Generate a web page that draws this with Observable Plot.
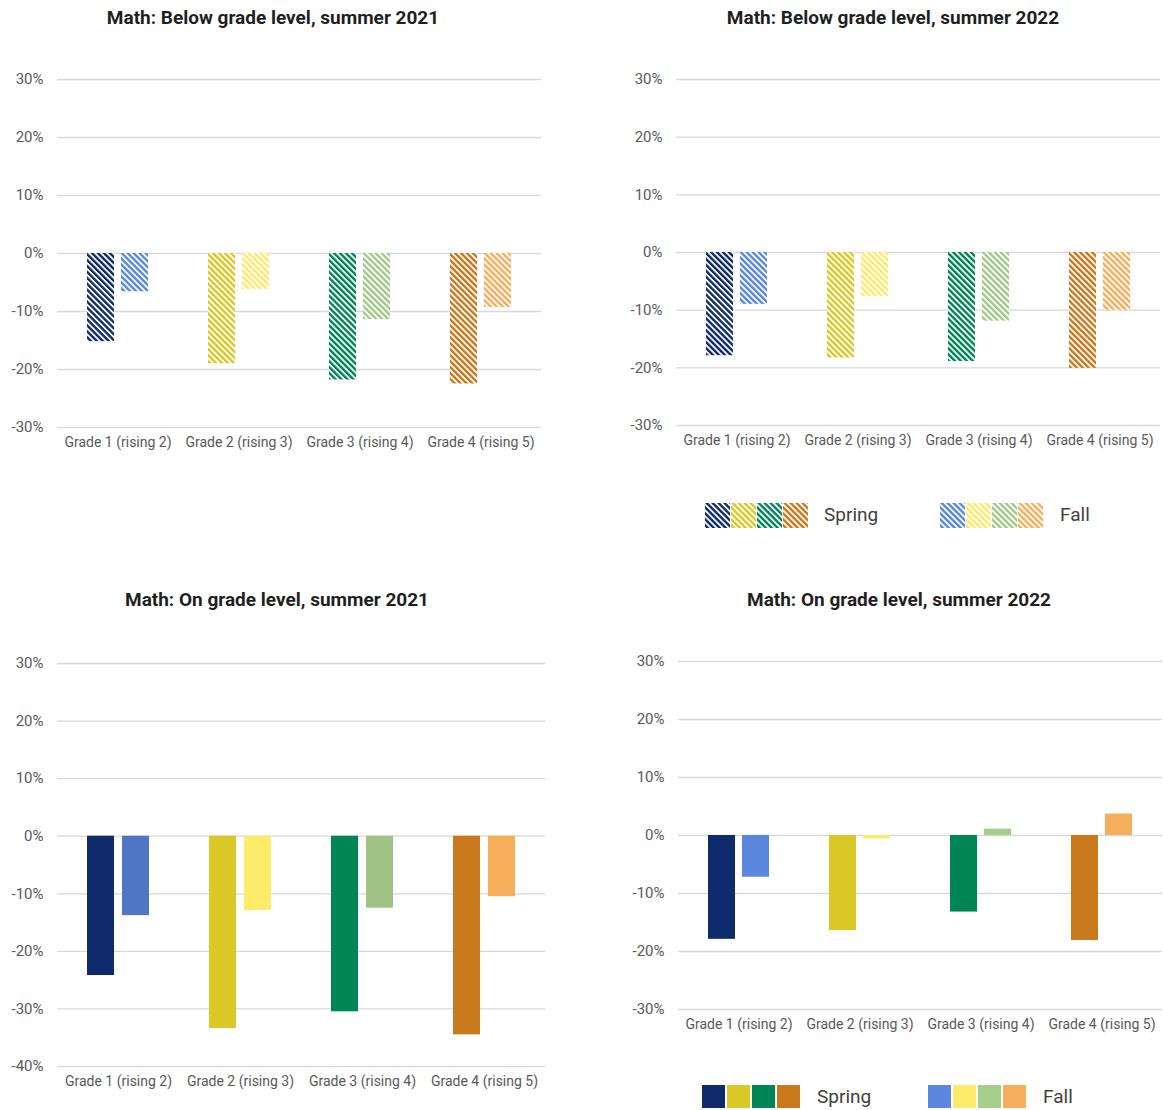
<!DOCTYPE html>
<html>
<head>
<meta charset="utf-8">
<script src="https://cdn.jsdelivr.net/npm/d3@7"></script>
<script src="https://cdn.jsdelivr.net/npm/@observablehq/plot@0.6"></script>
<style>
  body { margin: 0; background: #fff; font-family: Roboto, "Noto Sans", sans-serif; }
  #root { position: relative; width: 1163px; height: 1110px; overflow: hidden; background: #fff; }
  .panel { position: absolute; }
  .title { position: absolute; font-weight: 700; font-size: 19px; line-height: 22px; color: #1f1f1f; text-align: center; white-space: nowrap; }
  .swatch { position: absolute; }
  .ltext { position: absolute; font-size: 19px; line-height: 24px; color: #404040; white-space: nowrap; }
  .panel svg g[aria-label="y-axis tick label"] text { font-size: 15px; }
</style>
</head>
<body>
<svg width="0" height="0" style="position:absolute"><defs id="patterns"></defs></svg>
<div id="root"></div>
<script>
// ---------------- data ----------------
const grades = ["Grade 1 (rising 2)", "Grade 2 (rising 3)", "Grade 3 (rising 4)", "Grade 4 (rising 5)"];
const seasons = ["Spring", "Fall"];

const springColors = ["#0f2b6b", "#d9c826", "#008656", "#c9791b"];
const fallColorsHatch = ["#5a87e0", "#fde96b", "#a3c98a", "#f7ae5c"];
const fallColors2021 = ["#4f76c4", "#fcec6a", "#a0c385", "#f6ae5a"];
const fallColors2022 = ["#5b88de", "#fdeb6a", "#a5cd8c", "#f5ae5b"];

const below2021Spring = [-15.2, -19.0, -21.8, -22.5];
const below2021Fall   = [-6.6, -6.2, -11.4, -9.3];
const below2022Spring = [-17.9, -18.3, -18.9, -20.1];
const below2022Fall   = [-9.0, -7.6, -11.9, -10.0];
const on2021Spring    = [-24.2, -33.4, -30.5, -34.5];
const on2021Fall      = [-13.8, -12.9, -12.5, -10.5];
const on2022Spring    = [-17.9, -16.4, -13.2, -18.1];
const on2022Fall      = [-7.2, -0.6, 1.1, 3.7];

const ticks30 = [-30, -20, -10, 0, 10, 20, 30];
const ticks40 = [-40, -30, -20, -10, 0, 10, 20, 30];

const titles = [
  "Math: Below grade level, summer 2021",
  "Math: Below grade level, summer 2022",
  "Math: On grade level, summer 2021",
  "Math: On grade level, summer 2022"
];
const legendLabels = ["Spring", "Fall"];

// ---------------- hatch patterns ----------------
const defs = document.getElementById("patterns");
const NS = "http://www.w3.org/2000/svg";
function hatchId(c) { return "hatch-" + c.replace("#", ""); }
function addHatch(c) {
  const P = 4.2, S = 2.4;
  const p = document.createElementNS(NS, "pattern");
  p.setAttribute("id", hatchId(c));
  p.setAttribute("patternUnits", "userSpaceOnUse");
  p.setAttribute("width", P);
  p.setAttribute("height", P);
  p.setAttribute("patternTransform", "rotate(-45)");
  const bg = document.createElementNS(NS, "rect");
  bg.setAttribute("width", P); bg.setAttribute("height", P); bg.setAttribute("fill", "#fff");
  const st = document.createElementNS(NS, "rect");
  st.setAttribute("width", S); st.setAttribute("height", P); st.setAttribute("fill", c);
  p.appendChild(bg); p.appendChild(st);
  defs.appendChild(p);
}
[...springColors, ...fallColorsHatch].forEach(addHatch);
const hatch = cs => cs.map(c => `url(#${hatchId(c)})`);

// ---------------- charts ----------------
const root = document.getElementById("root");

function chart({spring, fall, springFill, fallFill, yDomain, ticks, width, height, mL, mR, mT, mB}) {
  const data = grades.flatMap((g, i) => [
    {grade: g, season: "Spring", value: spring[i], fill: springFill[i]},
    {grade: g, season: "Fall", value: fall[i], fill: fallFill[i]}
  ]);
  return Plot.plot({
    width, height,
    marginLeft: mL, marginRight: mR, marginTop: mT, marginBottom: mB,
    style: {fontFamily: "Roboto, 'Noto Sans', sans-serif", fontSize: "14px", color: "#595959", background: "transparent", overflow: "visible"},
    fx: {domain: grades, padding: 0, label: null, axis: "bottom", tickSize: 0, tickPadding: 10},
    x: {domain: seasons, paddingInner: 0.22, paddingOuter: 0.85, axis: null},
    y: {domain: yDomain, ticks, tickFormat: d => `${d}%`, label: null, tickSize: 0, tickPadding: 14},
    color: {type: "identity"},
    marks: [
      Plot.ruleY(ticks, {stroke: "#d9d9d9", strokeWidth: 1.3}),
      Plot.barY(data, {fx: "grade", x: "season", y: "value", fill: "fill"})
    ]
  });
}

function place(el, left, top) {
  const d = document.createElement("div");
  d.className = "panel";
  d.style.left = left + "px"; d.style.top = top + "px";
  d.appendChild(el);
  root.appendChild(d);
}
function title(text, left, width, top) {
  const t = document.createElement("div");
  t.className = "title";
  t.textContent = text;
  t.style.left = left + "px"; t.style.width = width + "px"; t.style.top = top + "px";
  root.appendChild(t);
}
function legend(x0, y0, sw, gap, springX, fallX, fallTextX, textTop, springFills, fallFills) {
  const groups = [[x0, springFills], [fallX, fallFills]];
  groups.forEach(([gx, fills]) => {
    fills.forEach((f, i) => {
      const s = document.createElementNS(NS, "svg");
      s.setAttribute("width", sw); s.setAttribute("height", sw);
      s.setAttribute("class", "swatch");
      s.style.left = (gx + i * (sw + gap)) + "px"; s.style.top = y0 + "px";
      const r = document.createElementNS(NS, "rect");
      r.setAttribute("width", sw); r.setAttribute("height", sw); r.setAttribute("fill", f);
      s.appendChild(r);
      root.appendChild(s);
    });
  });
  [[springX, legendLabels[0]], [fallTextX, legendLabels[1]]].forEach(([x, label]) => {
    const t = document.createElement("div");
    t.className = "ltext"; t.textContent = label;
    t.style.left = x + "px"; t.style.top = textTop + "px";
    root.appendChild(t);
  });
}

// top-left
title(titles[0], 0, 546, 7);
place(chart({spring: below2021Spring, fall: below2021Fall, springFill: hatch(springColors), fallFill: hatch(fallColorsHatch),
  yDomain: [-30, 30], ticks: ticks30, width: 560, height: 417, mL: 55, mR: 18, mT: 39, mB: 30}), 0, 40);

// top-right
title(titles[1], 620, 546, 7);
place(chart({spring: below2022Spring, fall: below2022Fall, springFill: hatch(springColors), fallFill: hatch(fallColorsHatch),
  yDomain: [-30, 30], ticks: ticks30, width: 543, height: 415, mL: 54, mR: 2, mT: 39, mB: 30}), 620, 40);
legend(705, 503, 25, 1, 824, 940, 1060, 503, hatch(springColors), hatch(fallColorsHatch));

// bottom-left
title(titles[2], 0, 554, 589);
place(chart({spring: on2021Spring, fall: on2021Fall, springFill: springColors, fallFill: fallColors2021,
  yDomain: [-40, 30], ticks: ticks40, width: 560, height: 474, mL: 57, mR: 15, mT: 41, mB: 30}), 0, 622);

// bottom-right
title(titles[3], 620, 558, 589);
place(chart({spring: on2022Spring, fall: on2022Fall, springFill: springColors, fallFill: fallColors2022,
  yDomain: [-30, 30], ticks: ticks30, width: 543, height: 417, mL: 57, mR: 0, mT: 39, mB: 30}), 620, 622);
legend(702, 1085, 23, 2, 817, 928, 1043, 1085, springColors, fallColors2022);
</script>
</body>
</html>
